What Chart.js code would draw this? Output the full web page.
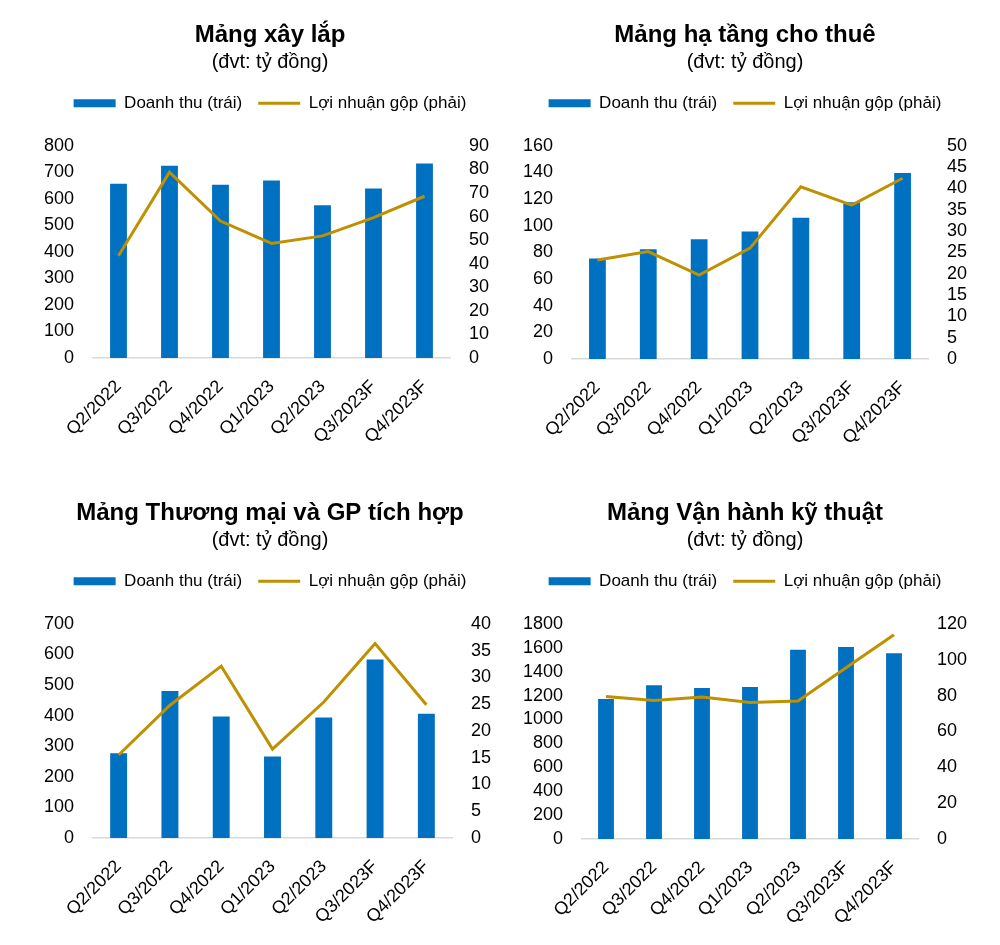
<!DOCTYPE html>
<html>
<head>
<meta charset="utf-8">
<script src="https://cdn.jsdelivr.net/npm/chart.js@4/dist/chart.umd.min.js"></script>
<style>
    body { margin: 0; background: #fff; }
    .khung { position: absolute; }
</style>
</head>
<body>
<div class="khung" style="left:0;top:0;width:540px;height:478px"><canvas id="c1"></canvas></div>
<div class="khung" style="left:490px;top:0;width:510px;height:478px"><canvas id="c2"></canvas></div>
<div class="khung" style="left:0;top:478px;width:540px;height:467px"><canvas id="c3"></canvas></div>
<div class="khung" style="left:490px;top:478px;width:510px;height:467px"><canvas id="c4"></canvas></div>
<script>
// Quý
const quy = ["Q2/2022", "Q3/2022", "Q4/2022", "Q1/2023", "Q2/2023", "Q3/2023F", "Q4/2023F"];

// Mảng xây lắp
const xayLapDoanhThu = [657, 725, 653, 669, 576, 639, 733];
const xayLapLoiNhuan = [43.4, 78.8, 58.1, 48.6, 51.8, 59.5, 68.6];

// Mảng hạ tầng cho thuê
const haTangDoanhThu = [75.4, 82.4, 89.8, 95.6, 106, 117.7, 139.6];
const haTangLoiNhuan = [23.2, 25.2, 19.7, 26, 40.4, 36.1, 42.4];

// Mảng Thương mại và GP tích hợp
const thuongMaiDoanhThu = [277, 480, 397, 266, 394, 583, 406];
const thuongMaiLoiNhuan = [15.5, 24.8, 32.1, 16.6, 25.4, 36.3, 24.9];

// Mảng Vận hành kỹ thuật
const vanHanhDoanhThu = [1172, 1286, 1264, 1272, 1583, 1605, 1553];
const vanHanhLoiNhuan = [79.4, 77.2, 79.2, 76.1, 77, 95.5, 113.9];

const FONT = "'Liberation Sans', Arial, sans-serif";
const XANH = "#0070C0";
const VANG = "#BF9000";

// chừa thêm khoảng trống dưới chú thích
const demChuThich = {
    id: "demChuThich",
    afterInit(chart) {
        const fitCu = chart.legend.fit;
        chart.legend.fit = function () {
            fitCu.call(this);
            this.height += 24;
        };
    }
};

function veBieuDo(id, tieuDe, doanhThu, loiNhuan, trai, phai, khung) {
    return new Chart(document.getElementById(id), {
        type: "bar",
        data: {
            labels: quy,
            datasets: [{
                label: "Doanh thu (trái)",
                data: doanhThu,
                backgroundColor: XANH,
                borderWidth: 0,
                categoryPercentage: 1,
                barPercentage: 0.33,
                yAxisID: "y",
                order: 2
            }, {
                type: "line",
                label: "Lợi nhuận gộp (phải)",
                data: loiNhuan,
                borderColor: VANG,
                backgroundColor: VANG,
                borderWidth: 3,
                pointRadius: 0,
                tension: 0,
                yAxisID: "y1",
                order: 1
            }]
        },
        plugins: [demChuThich],
        options: {
            responsive: true,
            maintainAspectRatio: false,
            animation: false,
            layout: { padding: 0 },
            plugins: {
                title: {
                    display: true,
                    text: tieuDe,
                    color: "#000",
                    font: { family: FONT, size: 24, weight: "bold" },
                    padding: { top: 21, bottom: 0 }
                },
                subtitle: {
                    display: true,
                    text: "(đvt: tỷ đồng)",
                    color: "#000",
                    font: { family: FONT, size: 20 },
                    padding: { top: 1, bottom: 4 }
                },
                legend: {
                    display: true,
                    labels: {
                        color: "#000",
                        font: { family: FONT, size: 17 },
                        usePointStyle: true,
                        pointStyleWidth: 42,
                        boxHeight: 8,
                        padding: 16,
                        generateLabels: (chart) => chart.data.datasets.map((ds, i) => ({
                            text: ds.label,
                            fillStyle: i === 0 ? XANH : VANG,
                            strokeStyle: i === 0 ? XANH : VANG,
                            lineWidth: i === 0 ? 0 : 3,
                            pointStyle: i === 0 ? "rect" : "line",
                            fontColor: "#000",
                            datasetIndex: i
                        }))
                    }
                },
                tooltip: { enabled: false }
            },
            scales: {
                x: {
                    grid: { display: false },
                    border: { display: true, color: "#D9D9D9", width: 1.5 },
                    ticks: {
                        color: "#000",
                        font: { family: FONT, size: 18 },
                        minRotation: 45,
                        maxRotation: 45,
                        padding: 10
                    },
                    afterFit: (s) => { s.height = khung.duoi; }
                },
                y: {
                    position: "left",
                    min: 0,
                    max: trai.max,
                    grid: { display: false },
                    border: { display: false },
                    ticks: {
                        count: trai.max / trai.buoc + 1,
                        autoSkip: false,
                        color: "#000",
                        font: { family: FONT, size: 18 },
                        padding: 11,
                        callback: (v) => String(v)
                    },
                    afterFit: (s) => { s.width = khung.trai; }
                },
                y1: {
                    position: "right",
                    min: 0,
                    max: phai.max,
                    grid: { display: false },
                    border: { display: false },
                    ticks: {
                        count: phai.max / phai.buoc + 1,
                        autoSkip: false,
                        color: "#000",
                        font: { family: FONT, size: 18 },
                        padding: 11,
                        callback: (v) => String(v)
                    },
                    afterFit: (s) => { s.width = khung.phai; }
                }
            }
        }
    });
}

veBieuDo("c1", "Mảng xây lắp", xayLapDoanhThu, xayLapLoiNhuan,
    { max: 800, buoc: 100 }, { max: 90, buoc: 10 },
    { duoi: 120, trai: 93, phai: 90 });
veBieuDo("c2", "Mảng hạ tầng cho thuê", haTangDoanhThu, haTangLoiNhuan,
    { max: 160, buoc: 20 }, { max: 50, buoc: 5 },
    { duoi: 119, trai: 82, phai: 72 });
veBieuDo("c3", "Mảng Thương mại và GP tích hợp", thuongMaiDoanhThu, thuongMaiLoiNhuan,
    { max: 700, buoc: 100 }, { max: 40, buoc: 5 },
    { duoi: 107, trai: 93, phai: 88 });
veBieuDo("c4", "Mảng Vận hành kỹ thuật", vanHanhDoanhThu, vanHanhLoiNhuan,
    { max: 1800, buoc: 200 }, { max: 120, buoc: 20 },
    { duoi: 106, trai: 92, phai: 82 });
</script>
</body>
</html>
